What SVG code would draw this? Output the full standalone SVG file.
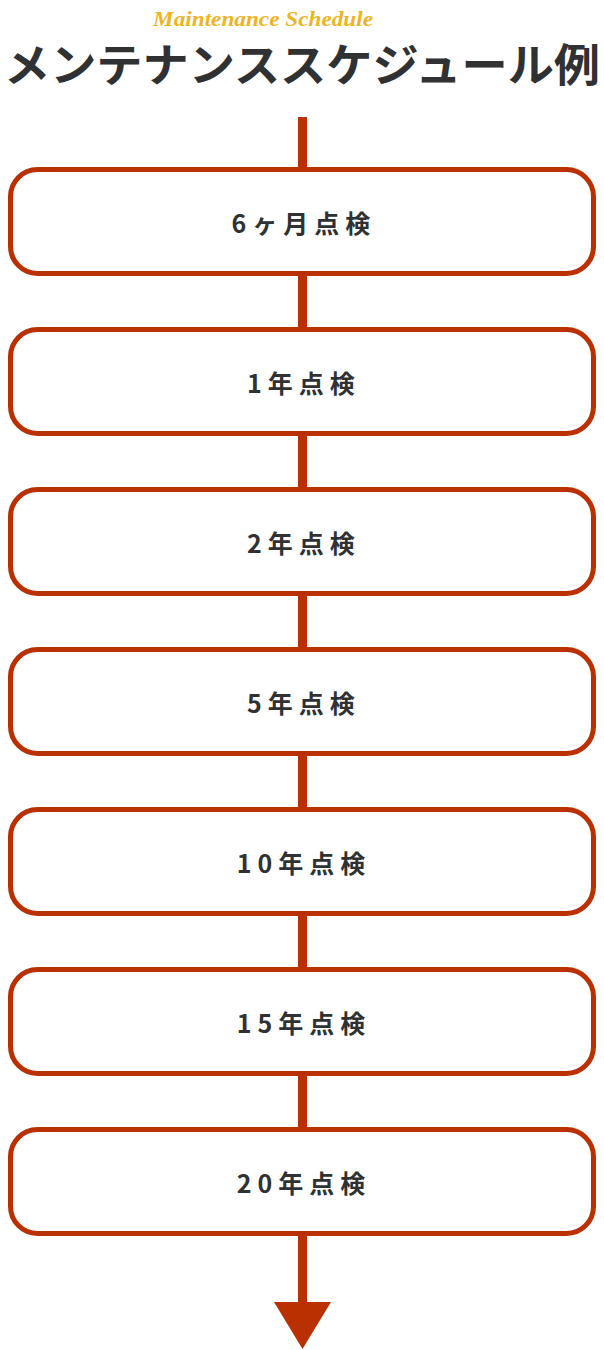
<svg xmlns="http://www.w3.org/2000/svg" width="604" height="1350" viewBox="0 0 604 1350">
<style>
.box{fill:#fff;stroke:#bb3000;stroke-width:5}
.lbl{font-family:"Noto Sans CJK JP","Noto Sans",sans-serif;font-weight:bold;font-size:25px;fill:#2f3133;letter-spacing:6px;text-anchor:middle}
.sub{font-family:"Liberation Serif",serif;font-style:italic;font-weight:bold;font-size:21px;fill:#eeb424;text-anchor:middle}
.ttl{font-family:"Noto Sans CJK JP",sans-serif;font-weight:bold;font-size:45px;fill:#2f3133;text-anchor:middle}
</style>
<rect width="604" height="1350" fill="#fff"/>
<text class="sub" x="263" y="26" textLength="220" lengthAdjust="spacingAndGlyphs" text-anchor="start" style="text-anchor:start" transform="translate(-110 0)">Maintenance Schedule</text>
<text class="ttl" x="302" y="82" textLength="596" lengthAdjust="spacingAndGlyphs">メンテナンススケジュール例</text>
<g id="connectors">
<rect x="298" y="117" width="9" height="1187" fill="#bb3000"/>
<polygon points="274,1302 331,1302 302.5,1349" fill="#bb3000"/>
</g>
<g id="n1"><rect class="box" x="10.5" y="169.5" width="583" height="104" rx="27"/><text class="lbl" x="304" y="233">6ヶ月点検</text></g>
<g id="n2"><rect class="box" x="10.5" y="329.5" width="583" height="104" rx="27"/><text class="lbl" x="304" y="393">1年点検</text></g>
<g id="n3"><rect class="box" x="10.5" y="489.5" width="583" height="104" rx="27"/><text class="lbl" x="304" y="553">2年点検</text></g>
<g id="n4"><rect class="box" x="10.5" y="649.5" width="583" height="104" rx="27"/><text class="lbl" x="304" y="713">5年点検</text></g>
<g id="n5"><rect class="box" x="10.5" y="809.5" width="583" height="104" rx="27"/><text class="lbl" x="304" y="873">10年点検</text></g>
<g id="n6"><rect class="box" x="10.5" y="969.5" width="583" height="104" rx="27"/><text class="lbl" x="304" y="1033">15年点検</text></g>
<g id="n7"><rect class="box" x="10.5" y="1129.5" width="583" height="104" rx="27"/><text class="lbl" x="304" y="1193">20年点検</text></g>
</svg>
